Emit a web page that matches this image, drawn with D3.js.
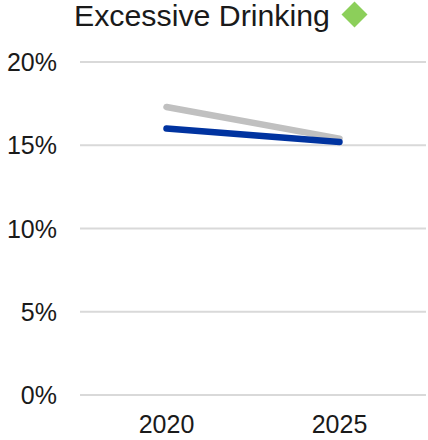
<!DOCTYPE html>
<html><head><meta charset="utf-8">
<script src="https://cdn.jsdelivr.net/npm/d3@7"></script>
<style>body{margin:0;background:#fff}svg{display:block}text{font-family:"Liberation Sans",Arial,sans-serif}</style>
</head><body>
<script>
const years = ["2020", "2025"];
const benchmark = [17.3, 15.4];
const county = [16.0, 15.2];
const yTicks = [0, 5, 10, 15, 20];
const title = "Excessive Drinking";

const W = 428, H = 440;
const svg = d3.select("body").append("svg").attr("width", W).attr("height", H);
const x = d3.scalePoint().domain(years).range([80, 426]).padding(0.5);
const y = d3.scaleLinear().domain([0, 20]).range([395, 62]);

svg.append("g").selectAll("line").data(yTicks).join("line")
  .attr("x1", 80).attr("x2", 426)
  .attr("y1", d => y(d)).attr("y2", d => y(d))
  .attr("stroke", "#d9d9d9").attr("stroke-width", 2);

svg.append("g").selectAll("text").data(yTicks).join("text")
  .attr("x", 57).attr("y", d => y(d) + 9)
  .attr("text-anchor", "end").attr("font-size", 25).attr("fill", "#1a1a1a")
  .text(d => d + "%");

svg.append("g").selectAll("text").data(years).join("text")
  .attr("x", d => x(d)).attr("y", 433)
  .attr("text-anchor", "middle").attr("font-size", 25).attr("fill", "#1a1a1a")
  .text(d => d);

const line = d3.line().x((d, i) => x(years[i])).y(d => y(d));
svg.append("path").datum(benchmark).attr("d", line)
  .attr("fill", "none").attr("stroke", "#c0c0c0").attr("stroke-width", 6.5).attr("stroke-linecap", "round");
svg.append("path").datum(county).attr("d", line)
  .attr("fill", "none").attr("stroke", "#0033a0").attr("stroke-width", 6.5).attr("stroke-linecap", "round");

svg.append("text").attr("x", 74).attr("y", 26).attr("font-size", 30.3).attr("fill", "#1a1a1a").text(title);
svg.append("path").attr("d", d3.symbol(d3.symbolDiamond2, 430)())
  .attr("transform", "translate(354.5,14.5)").attr("fill", "#8ccf5a");
</script>
</body></html>
